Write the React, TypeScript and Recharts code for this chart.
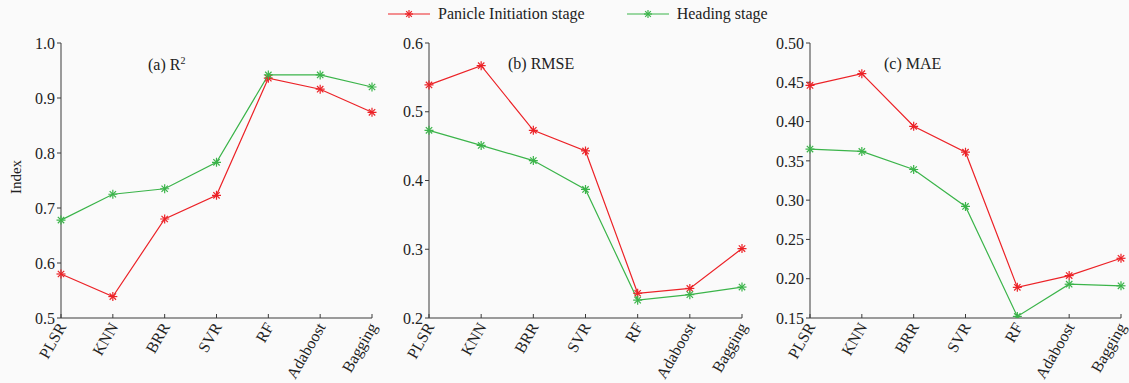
import React from "react";
import { LineChart, Line, XAxis, YAxis } from "recharts";

const categories = ["PLSR", "KNN", "BRR", "SVR", "RF", "Adaboost", "Bagging"];

const r2Panicle = [0.58, 0.539, 0.68, 0.723, 0.936, 0.916, 0.874];
const r2Heading = [0.678, 0.725, 0.735, 0.783, 0.942, 0.942, 0.92];
const rmsePanicle = [0.539, 0.567, 0.473, 0.443, 0.236, 0.243, 0.301];
const rmseHeading = [0.473, 0.451, 0.429, 0.387, 0.226, 0.234, 0.245];
const maePanicle = [0.446, 0.461, 0.394, 0.361, 0.189, 0.204, 0.226];
const maeHeading = [0.365, 0.362, 0.339, 0.292, 0.152, 0.193, 0.191];

const r2Ticks = [0.5, 0.6, 0.7, 0.8, 0.9, 1.0];
const rmseTicks = [0.2, 0.3, 0.4, 0.5, 0.6];
const maeTicks = [0.15, 0.2, 0.25, 0.3, 0.35, 0.4, 0.45, 0.5];

const RED = "#ec2227";
const GREEN = "#3bb44a";
const AXIS = "#3a3a3a";
const FONT = "'Liberation Serif', 'Times New Roman', serif";

const build = (a: number[], b: number[]) =>
  categories.map((c, i) => ({ name: c, panicle: a[i], heading: b[i] }));

function Star({ cx, cy, color, r = 4.5 }: { cx: number; cy: number; color: string; r?: number }) {
  const d = r * 0.707;
  return (
    <g stroke={color} strokeWidth={1.2}>
      <line x1={cx - r} y1={cy} x2={cx + r} y2={cy} />
      <line x1={cx} y1={cy - r} x2={cx} y2={cy + r} />
      <line x1={cx - d} y1={cy - d} x2={cx + d} y2={cy + d} />
      <line x1={cx - d} y1={cy + d} x2={cx + d} y2={cy - d} />
    </g>
  );
}

const starDot = (color: string) => (p: any) => {
  if (p.cx == null || p.cy == null) return <g key={p.index} />;
  return <Star key={p.index} cx={p.cx} cy={p.cy} color={color} />;
};

const CatTick = (props: any) => {
  const { x, y, payload } = props;
  const ax = x + 1;
  const ay = y + 8;
  return (
    <text
      x={ax}
      y={ay}
      transform={`rotate(-60, ${ax}, ${ay})`}
      textAnchor="end"
      dy="0.35em"
      fontSize={16}
      fontFamily={FONT}
      fill="#222"
    >
      {payload.value}
    </text>
  );
};

interface PanelProps {
  left: number;
  width: number;
  marginLeft: number;
  marginRight: number;
  data: { name: string; panicle: number; heading: number }[];
  ticks: number[];
  digits: number;
}

function Panel({ left, width, marginLeft, marginRight, data, ticks, digits }: PanelProps) {
  return (
    <div style={{ position: "absolute", left, top: 0 }}>
      <LineChart
        width={width}
        height={383}
        data={data}
        margin={{ top: 43, right: marginRight, bottom: 5, left: marginLeft }}
      >
        <XAxis
          dataKey="name"
          scale="point"
          padding={{ left: 0, right: 0 }}
          height={60}
          stroke={AXIS}
          tickSize={-4}
          tick={<CatTick />}
          interval={0}
        />
        <YAxis
          width={50}
          domain={[ticks[0], ticks[ticks.length - 1]]}
          ticks={ticks}
          tickFormatter={(v: number) => v.toFixed(digits)}
          stroke={AXIS}
          tickSize={4}
          tick={{ fontSize: 16, fontFamily: FONT, fill: "#222" }}
          allowDataOverflow
        />
        <Line
          dataKey="panicle"
          stroke={RED}
          strokeWidth={1.2}
          dot={starDot(RED)}
          isAnimationActive={false}
        />
        <Line
          dataKey="heading"
          stroke={GREEN}
          strokeWidth={1.2}
          dot={starDot(GREEN)}
          isAnimationActive={false}
        />
      </LineChart>
    </div>
  );
}

const titleStyle: React.CSSProperties = {
  position: "absolute",
  top: 55,
  fontFamily: FONT,
  fontSize: 16,
  color: "#222",
  whiteSpace: "nowrap",
};

function LegendItem({ color, label }: { color: string; label: string }) {
  return (
    <div style={{ display: "flex", alignItems: "center", gap: 8 }}>
      <svg width={42} height={12}>
        <line x1={0} y1={6} x2={42} y2={6} stroke={color} strokeWidth={1.2} />
        <Star cx={21} cy={6} color={color} r={4} />
      </svg>
      <span>{label}</span>
    </div>
  );
}

export default function App() {
  return (
    <div
      style={{
        position: "absolute",
        left: 0,
        top: 0,
        width: 1129,
        height: 383,
        background: "#fafafa",
        overflow: "hidden",
      }}
    >
      <style>{`.recharts-wrapper, .recharts-surface { overflow: visible !important; }`}</style>
      <Panel left={0} width={380} marginLeft={11} marginRight={8} data={build(r2Panicle, r2Heading)} ticks={r2Ticks} digits={1} />
      <Panel left={375} width={375} marginLeft={4} marginRight={8} data={build(rmsePanicle, rmseHeading)} ticks={rmseTicks} digits={1} />
      <Panel left={750} width={379} marginLeft={10} marginRight={8} data={build(maePanicle, maeHeading)} ticks={maeTicks} digits={2} />

      <div style={{ ...titleStyle, left: 148 }}>
        (a) R<sup style={{ fontSize: 10 }}>2</sup>
      </div>
      <div style={{ ...titleStyle, left: 508 }}>(b) RMSE</div>
      <div style={{ ...titleStyle, left: 884 }}>(c) MAE</div>

      <div
        style={{
          position: "absolute",
          left: 8,
          top: 177,
          transform: "translate(-50%, -50%) rotate(-90deg)",
          transformOrigin: "center",
          fontFamily: FONT,
          fontSize: 15,
          color: "#222",
          marginLeft: 8,
        }}
      >
        Index
      </div>

      <div
        style={{
          position: "absolute",
          left: 388,
          top: 5,
          display: "flex",
          gap: 42,
          fontFamily: FONT,
          fontSize: 16,
          color: "#222",
        }}
      >
        <LegendItem color={RED} label="Panicle Initiation stage" />
        <LegendItem color={GREEN} label="Heading stage" />
      </div>
    </div>
  );
}
